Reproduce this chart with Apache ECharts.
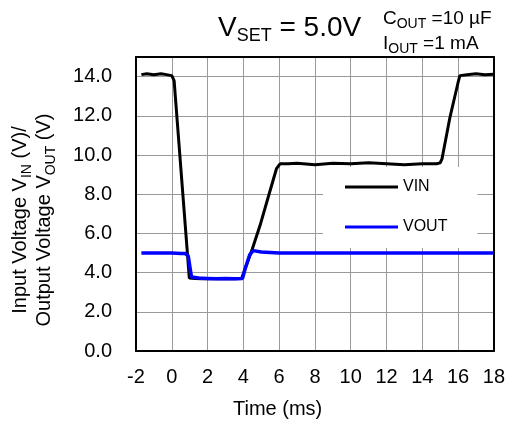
<!DOCTYPE html>
<html>
<head>
<meta charset="utf-8">
<script src="https://cdn.jsdelivr.net/npm/echarts@6/dist/echarts.min.js"></script>
<style>
html,body{margin:0;padding:0;background:#fff;}
#c{width:508px;height:425px;}
</style>
</head>
<body>
<div id="c"></div>
<script>
// Time axis (ms) and values (V)
var vinTime = [-1.7, -1.4, -1.0, -0.6, -0.3, 0.0, 0.13, 0.5, 0.98, 1.3, 1.7, 2.0, 2.5, 3.0, 3.5, 3.9, 4.0, 4.5, 4.93, 5.5, 5.85, 6.05, 6.5, 7.0, 8.0, 9.0, 10.0, 11.0, 12.0, 13.0, 14.0, 14.8, 15.0, 15.1, 15.54, 16.0, 16.1, 16.5, 17.0, 17.5, 18.0];
var vinValues = [14.1, 14.15, 14.1, 14.15, 14.1, 14.05, 13.8, 9.4, 3.72, 3.7, 3.68, 3.7, 3.68, 3.7, 3.68, 3.7, 3.72, 5.2, 6.4, 8.2, 9.3, 9.55, 9.55, 9.58, 9.5, 9.58, 9.55, 9.6, 9.55, 9.5, 9.55, 9.55, 9.6, 9.8, 11.9, 13.7, 14.05, 14.1, 14.15, 14.1, 14.12];
var voutTime = [-1.7, -1.0, 0.0, 0.5, 0.75, 0.92, 1.1, 1.5, 2.0, 2.5, 3.0, 3.5, 3.95, 4.1, 4.35, 4.55, 5.0, 5.5, 6.0, 8.0, 10.0, 12.0, 14.0, 16.0, 18.0];
var voutValues = [5.0, 5.0, 5.0, 4.98, 4.97, 4.85, 3.78, 3.72, 3.7, 3.68, 3.7, 3.68, 3.7, 4.2, 4.9, 5.12, 5.05, 5.03, 5.0, 5.0, 5.0, 5.0, 5.0, 5.0, 5.0];
var seriesNames = ['VIN', 'VOUT'];
var xTicks = [-2, 0, 2, 4, 6, 8, 10, 12, 14, 16, 18];
var yTicks = [0, 2, 4, 6, 8, 10, 12, 14];

function pairs(t, v) { return t.map(function (x, i) { return [x, v[i]]; }); }

var FONT = 'Liberation Sans, Arial, Helvetica, sans-serif';
var frameLine = {show: true, onZero: false, lineStyle: {color: '#000', width: 2}};
var chart = echarts.init(document.getElementById('c'), null, {renderer: 'canvas'});
chart.setOption({
  animation: false,
  backgroundColor: '#fff',
  textStyle: {fontFamily: FONT, color: '#000'},
  grid: {left: 136, right: 14, top: 57, bottom: 74},
  xAxis: [{
    type: 'value', position: 'bottom', min: xTicks[0], max: xTicks[xTicks.length - 1], interval: 2,
    axisLine: frameLine,
    axisTick: {show: false},
    axisLabel: {color: '#000', fontSize: 20, fontFamily: FONT, margin: 16},
    splitLine: {show: true, showMinLine: false, showMaxLine: false, lineStyle: {color: '#9a9a9a', width: 1}}
  }, {
    type: 'value', position: 'top', min: xTicks[0], max: xTicks[xTicks.length - 1], interval: 2,
    axisLine: frameLine, axisTick: {show: false}, axisLabel: {show: false}, splitLine: {show: false}
  }],
  yAxis: [{
    type: 'value', position: 'left', min: 0, max: 15, interval: 2,
    axisLine: frameLine,
    axisTick: {show: false},
    axisLabel: {color: '#000', fontSize: 20, fontFamily: FONT, margin: 24,
      formatter: function (v) { return yTicks.indexOf(v) >= 0 ? v.toFixed(1) : ''; }},
    splitLine: {show: true, showMinLine: false, showMaxLine: false, lineStyle: {color: '#9a9a9a', width: 1}}
  }, {
    type: 'value', position: 'right', min: 0, max: 15, interval: 2,
    axisLine: frameLine, axisTick: {show: false}, axisLabel: {show: false}, splitLine: {show: false}
  }],
  legend: {
    data: seriesNames, orient: 'vertical', left: 323, top: 167,
    backgroundColor: '#fff', padding: [12, 30, 13, 22],
    icon: 'rect', itemWidth: 53, itemHeight: 3, itemGap: 24,
    textStyle: {fontSize: 16, lineHeight: 16, color: '#000', fontFamily: FONT}
  },
  series: [
    {name: seriesNames[0], type: 'line', data: pairs(vinTime, vinValues), showSymbol: false, symbol: 'none',
     lineStyle: {color: '#000', width: 3}, itemStyle: {color: '#000'}, z: 2},
    {name: seriesNames[1], type: 'line', data: pairs(voutTime, voutValues), showSymbol: false, symbol: 'none',
     lineStyle: {color: '#0000ff', width: 3.5}, itemStyle: {color: '#0000ff'}, z: 3}
  ],
  graphic: [
    {type: 'text', left: 218, top: 14, silent: true, style: {
      text: '{m|V}{s|SET}{m| = 5.0V}', fontFamily: FONT,
      rich: {m: {fontSize: 28, lineHeight: 28, verticalAlign: 'top', fontFamily: FONT, color: '#000'},
             s: {fontSize: 18, lineHeight: 18, verticalAlign: 'top', padding: [13, 0, 0, 0], fontFamily: FONT, color: '#000'}}}},
    {type: 'text', left: 383, top: 9, silent: true, style: {
      text: '{m|C}{s|OUT}{m| =10 µF}', fontFamily: FONT,
      rich: {m: {fontSize: 19, lineHeight: 19, verticalAlign: 'top', fontFamily: FONT, color: '#000'},
             s: {fontSize: 14, lineHeight: 14, verticalAlign: 'top', padding: [8, 0, 0, 0], fontFamily: FONT, color: '#000'}}}},
    {type: 'text', left: 383, top: 34, silent: true, style: {
      text: '{m|I}{s|OUT}{m| =1 mA}', fontFamily: FONT,
      rich: {m: {fontSize: 19, lineHeight: 19, verticalAlign: 'top', fontFamily: FONT, color: '#000'},
             s: {fontSize: 14, lineHeight: 14, verticalAlign: 'top', padding: [8, 0, 0, 0], fontFamily: FONT, color: '#000'}}}},
    {type: 'text', left: 233, top: 399, silent: true, style: {
      text: 'Time (ms)', fontSize: 20, fontFamily: FONT, fill: '#000'}},
    {type: 'text', x: 34, y: 220, rotation: Math.PI / 2, silent: true, style: {
      text: '{m|Input Voltage V}{s|IN}{m| (V)/}\n{m|Output Voltage V}{s|OUT}{m| (V)}',
      align: 'center', verticalAlign: 'middle', fontFamily: FONT,
      rich: {m: {fontSize: 20, lineHeight: 24, verticalAlign: 'top', fontFamily: FONT, color: '#000'},
             s: {fontSize: 14, lineHeight: 14, verticalAlign: 'top', padding: [10, 0, 0, 0], fontFamily: FONT, color: '#000'}}}}
  ]
});
</script>
</body>
</html>
